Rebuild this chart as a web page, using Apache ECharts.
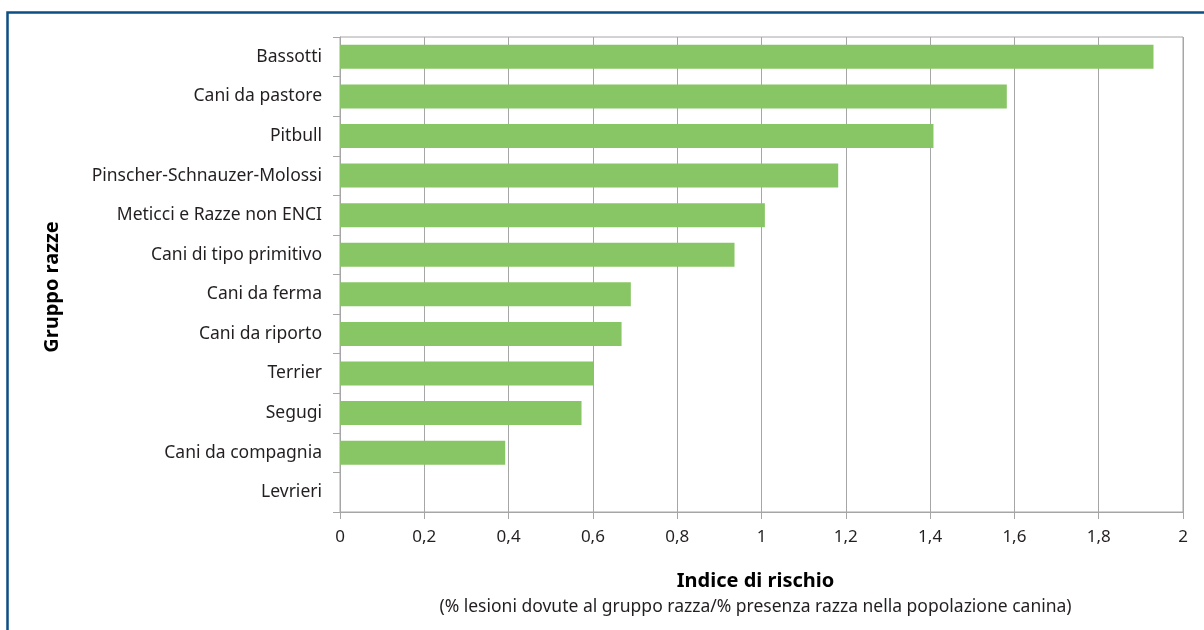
<!DOCTYPE html>
<html>
<head>
<meta charset="utf-8">
<script src="https://cdn.jsdelivr.net/npm/echarts@6/dist/echarts.min.js"></script>
<style>
  html, body { margin: 0; padding: 0; background: #ffffff; }
  #chart { width: 1204px; height: 630px; }
</style>
</head>
<body>
<div id="chart"></div>
<script>
// Breed groups, listed top to bottom
const categories = [
  'Bassotti',
  'Cani da pastore',
  'Pitbull',
  'Pinscher-Schnauzer-Molossi',
  'Meticci e Razze non ENCI',
  'Cani di tipo primitivo',
  'Cani da ferma',
  'Cani da riporto',
  'Terrier',
  'Segugi',
  'Cani da compagnia',
  'Levrieri'
];

// Risk index per breed group
const riskIndex = [1.93, 1.582, 1.408, 1.182, 1.008, 0.936, 0.690, 0.668, 0.601, 0.573, 0.392, 0];

// X-axis range and step
const xMin = 0;
const xMax = 2;
const xStep = 0.2;

const textColor = '#231f20';
const fontFamily = '"Noto Sans", "Open Sans", sans-serif';

const chart = echarts.init(document.getElementById('chart'), null, { renderer: 'canvas' });

chart.setOption({
  animation: false,
  backgroundColor: '#ffffff',
  textStyle: { fontFamily: fontFamily, color: textColor },
  grid: {
    left: 340,
    right: 21,
    top: 37,
    bottom: 118,
    show: true,
    borderColor: '#a6a6a6',
    borderWidth: 1,
    containLabel: false
  },
  xAxis: {
    type: 'value',
    min: xMin,
    max: xMax,
    interval: xStep,
    axisLine: { show: true, lineStyle: { color: '#a6a6a6', width: 1 } },
    axisTick: { show: true, length: 7, lineStyle: { color: '#a6a6a6' } },
    splitLine: { show: true, lineStyle: { color: '#a6a6a6', width: 1 } },
    axisLabel: {
      margin: 17,
      fontSize: 17,
      color: textColor,
      fontFamily: fontFamily,
      formatter: function (v) {
        return String(Math.round(v * 10) / 10).replace('.', ',');
      }
    },
    name: '{t|Indice di rischio}\n{s|(% lesioni dovute al gruppo razza/% presenza razza nella popolazione canina)}',
    nameLocation: 'middle',
    nameGap: 56,
    nameTextStyle: {
      padding: [0, 12, 0, 0],
      rich: {
        t: { fontSize: 20, fontWeight: 'bold', color: '#000000', fontFamily: fontFamily, lineHeight: 26 },
        s: { fontSize: 17.5, color: textColor, fontFamily: fontFamily, lineHeight: 26 }
      }
    }
  },
  yAxis: {
    type: 'category',
    data: categories,
    inverse: true,
    axisLine: { show: true, lineStyle: { color: '#a6a6a6', width: 1 } },
    axisTick: { show: true, length: 7, alignWithLabel: false, lineStyle: { color: '#a6a6a6' } },
    splitLine: { show: false },
    axisLabel: {
      margin: 18,
      fontSize: 17.5,
      padding: [4, 0, 0, 0],
      color: textColor,
      fontFamily: fontFamily
    }
  },
  series: [{
    type: 'bar',
    data: riskIndex,
    barWidth: 24,
    itemStyle: { color: '#88c665', borderWidth: 0 },
    silent: true
  }],
  graphic: [{
    type: 'polyline',
    shape: { points: [[7.5, 630], [7.5, 12.5], [1204, 12.5]] },
    style: { stroke: '#0d4e85', lineWidth: 2.5, fill: null },
    silent: true,
    z: 100
  }, {
    // vertical axis title
    type: 'text',
    x: 52,
    y: 287,
    rotation: Math.PI / 2,
    style: {
      text: 'Gruppo razze',
      fontSize: 20,
      fontWeight: 'bold',
      fontFamily: fontFamily,
      fill: '#000000',
      align: 'center',
      verticalAlign: 'middle'
    },
    silent: true
  }]
});
</script>
</body>
</html>
